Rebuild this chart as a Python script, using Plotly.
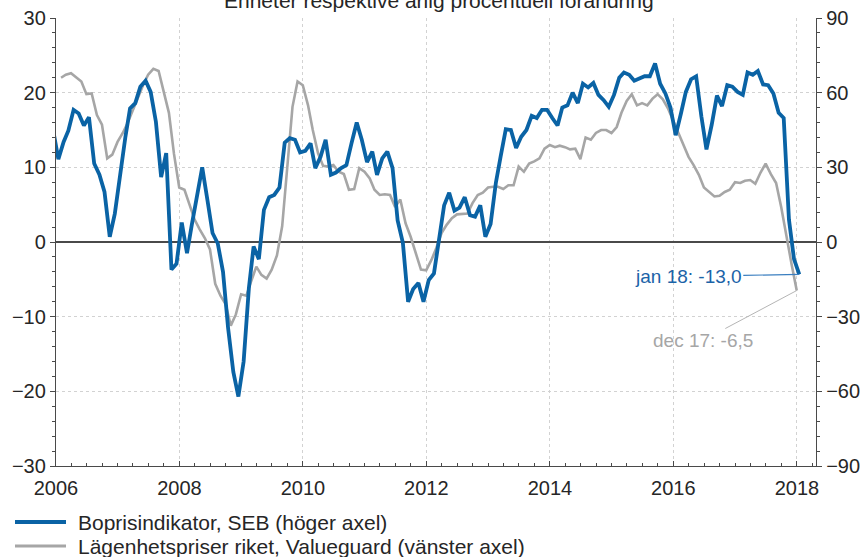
import pandas as pd
import plotly.graph_objects as go

# SEB Boprisindikator (right axis), mid-month, Dec 2005 .. Jan 2018
seb_values = [
    45.0,
    33.3, 40.2, 44.7, 53.1, 51.6, 46.8, 50.1, 31.5, 27.0, 20.1, 2.1, 11.4,      # 2006
    27.0, 42.0, 53.7, 55.8, 62.4, 64.8, 60.3, 48.3, 26.1, 35.7, -11.1, -8.7,    # 2007
    7.8, -4.5, 7.2, 18.6, 30.0, 16.8, 3.6, -0.6, -12.0, -34.5, -52.2, -62.1,    # 2008
    -48.0, -18.6, -1.8, -6.9, 12.9, 18.0, 18.9, 21.9, 39.9, 41.7, 41.1, 36.0,   # 2009
    36.6, 39.6, 29.7, 34.2, 41.1, 27.0, 27.9, 29.7, 30.9, 39.6, 48.0, 41.1,     # 2010
    32.1, 36.3, 27.0, 33.6, 36.3, 29.7, 8.7, -0.3, -24.0, -18.9, -16.5, -24.0,  # 2011
    -15.3, -12.6, 0.0, 14.7, 19.8, 12.6, 13.8, 18.0, 10.8, 10.2, 14.7, 2.1,     # 2012
    7.2, 23.7, 34.2, 45.3, 45.0, 37.8, 42.3, 45.0, 50.7, 49.8, 53.1, 53.1,      # 2013
    49.8, 46.8, 54.0, 54.9, 60.0, 55.8, 63.6, 62.1, 63.9, 59.1, 57.0, 54.3,     # 2014
    59.1, 66.0, 68.1, 67.2, 64.8, 65.7, 66.6, 66.6, 71.7, 63.6, 59.7, 54.0,     # 2015
    42.9, 51.6, 60.3, 65.4, 66.6, 50.4, 37.2, 47.1, 58.8, 54.6, 63.0, 62.4,     # 2016
    60.3, 59.1, 68.1, 67.2, 68.7, 63.3, 63.0, 59.7, 51.9, 49.8, 9.0, -6.9,      # 2017
    -13.0,                                                                       # 2018
]
seb_dates = [d + pd.Timedelta(days=14)
             for d in pd.date_range("2005-12-01", periods=len(seb_values), freq="MS")]

# Lägenhetspriser riket, Valueguard (left axis), month-end, Jan 2006 .. Dec 2017
vg_values = [
    22.0, 22.4, 22.6, 22.1, 21.5, 19.8, 19.9, 17.0, 15.7, 11.2, 11.7, 13.4,     # 2006
    14.6, 15.9, 17.6, 19.5, 21.0, 22.4, 23.2, 22.9, 20.1, 17.3, 11.8, 7.3,      # 2007
    7.0, 5.1, 3.0, 1.7, 0.5, -1.0, -5.6, -7.2, -8.3, -11.2, -9.7, -7.0,         # 2008
    -7.2, -5.3, -3.3, -4.4, -4.9, -3.7, -1.8, 2.1, 9.6, 18.1, 21.5, 21.0,       # 2009
    18.3, 15.0, 11.9, 10.2, 10.1, 10.3, 9.4, 9.1, 7.0, 7.1, 9.9, 9.4,           # 2010
    8.5, 7.0, 6.3, 6.4, 6.3, 4.7, 5.7, 2.5, 0.7, -1.5, -3.7, -3.8,              # 2011
    -2.4, -0.8, 1.2, 2.3, 3.2, 3.7, 3.7, 3.8, 5.2, 6.3, 6.6, 7.3,               # 2012
    7.4, 7.4, 7.1, 7.6, 7.6, 10.1, 9.4, 10.5, 10.8, 11.2, 12.5, 13.0,           # 2013
    12.7, 12.9, 12.7, 12.4, 12.5, 11.1, 14.0, 13.7, 14.6, 15.0, 15.0, 14.6,     # 2014
    15.4, 17.3, 18.9, 19.8, 18.3, 18.6, 18.3, 19.2, 19.8, 19.1, 17.9, 16.3,     # 2015
    14.6, 13.0, 11.4, 10.3, 9.0, 7.3, 6.7, 6.1, 6.2, 6.7, 7.0, 8.0,             # 2016
    7.9, 8.2, 8.3, 7.8, 9.3, 10.5, 9.1, 7.9, 4.7, 0.7, -2.9, -6.5,              # 2017
]
vg_dates = list(pd.date_range("2006-01-31", periods=len(vg_values), freq="ME"))

left_ticks = [-30, -20, -10, 0, 10, 20, 30]
right_ticks = [-90, -60, -30, 0, 30, 60, 90]

title_text = "Enheter respektive årlig procentuell förändring"
seb_name = "Boprisindikator, SEB (höger axel)"
vg_name = "Lägenhetspriser riket, Valueguard (vänster axel)"
seb_label = "jan 18: -13,0"
vg_label = "dec 17: -6,5"

BLUE = "#0a63a5"
GREY = "#a6a6a6"
AX = "#4a4a4a"
GRID = "#d2d2d2"
FONT = "Liberation Sans, Arial, sans-serif"

fig = go.Figure()
fig.add_trace(go.Scatter(x=vg_dates, y=vg_values, mode="lines", name=vg_name,
                         line=dict(color=GREY, width=2.6), yaxis="y"))
fig.add_trace(go.Scatter(x=seb_dates, y=seb_values, mode="lines", name=seb_name,
                         line=dict(color=BLUE, width=3.8), yaxis="y2"))

W, H = 862, 557
L, R, T, B = 56, 46, 18, 91
ph = H - T - B
pw = W - L - R


def px_x(p):
    return (p - L) / pw


def px_y(p):
    return (H - B - p) / ph


fig.update_layout(
    width=W, height=H,
    margin=dict(l=L, r=R, t=T, b=B, autoexpand=False),
    paper_bgcolor="white", plot_bgcolor="white",
    font=dict(family=FONT, size=20, color="#262626"),
    showlegend=False,
    xaxis=dict(
        type="date", range=["2006-01-01", "2018-04-24"],
        tick0="2006-01-01", dtick="M24", tickformat="%Y",
        showgrid=True, gridcolor=GRID, griddash="dot", gridwidth=1,
        showline=True, linecolor=AX, linewidth=1.3,
        ticks="inside", ticklen=5, tickcolor=AX,
        minor=dict(dtick="M3", ticks="inside", ticklen=3, tickcolor=AX, showgrid=False),
        zeroline=False, tickfont=dict(size=20), ticklabelstandoff=4,
    ),
    yaxis=dict(
        range=[-30, 30], tickvals=left_ticks,
        showgrid=True, gridcolor=GRID, griddash="dot", gridwidth=1,
        zeroline=True, zerolinecolor=AX, zerolinewidth=1.5,
        showline=True, linecolor=AX, linewidth=1.3,
        ticks="outside", ticklen=5, tickcolor=AX,
        minor=dict(dtick=2, ticks="outside", ticklen=3, tickcolor=AX, showgrid=False),
        tickfont=dict(size=20),
    ),
    yaxis2=dict(
        range=[-90, 90], tickvals=right_ticks, overlaying="y", side="right",
        showgrid=False, zeroline=False,
        showline=True, linecolor=AX, linewidth=1.3,
        ticks="outside", ticklen=5, tickcolor=AX,
        minor=dict(dtick=6, ticks="outside", ticklen=3, tickcolor=AX, showgrid=False),
        tickfont=dict(size=20),
    ),
)

# cropped title at top
fig.add_annotation(text=title_text, xref="paper", yref="paper",
                   x=px_x(439), y=px_y(0), xanchor="center", yanchor="middle",
                   showarrow=False, font=dict(size=21, color="#262626"))

# end-value labels
fig.add_annotation(x=seb_dates[-1], y=seb_values[-1], xref="x", yref="y2",
                   text=seb_label, showarrow=True, arrowhead=0, arrowwidth=1.2,
                   arrowcolor="#3b7fc0", ax=-111, ay=2,
                   font=dict(size=19, color="#1b63a8"))
fig.add_annotation(x=vg_dates[-1], y=vg_values[-1], xref="x", yref="y",
                   text=vg_label, showarrow=True, arrowhead=0, arrowwidth=1,
                   arrowcolor="#b5b5b5", ax=-94, ay=50,
                   font=dict(size=19, color="#a6a6a6"))

# custom legend below the plot
legend_items = [(seb_name, BLUE, 4, 522), (vg_name, GREY, 3.2, 546)]
for name, col, wdt, ypix in legend_items:
    fig.add_shape(type="line", xref="paper", yref="paper",
                  x0=px_x(15), x1=px_x(66), y0=px_y(ypix), y1=px_y(ypix),
                  line=dict(color=col, width=wdt))
    fig.add_annotation(text=name, xref="paper", yref="paper",
                       x=px_x(76), y=px_y(ypix), xanchor="left", yanchor="middle",
                       showarrow=False, font=dict(size=21, color="#262626"))

fig.write_html(
    "out.html",
    config={"displayModeBar": False},
    post_script="document.body.style.margin='0';document.body.style.overflow='hidden';",
)
